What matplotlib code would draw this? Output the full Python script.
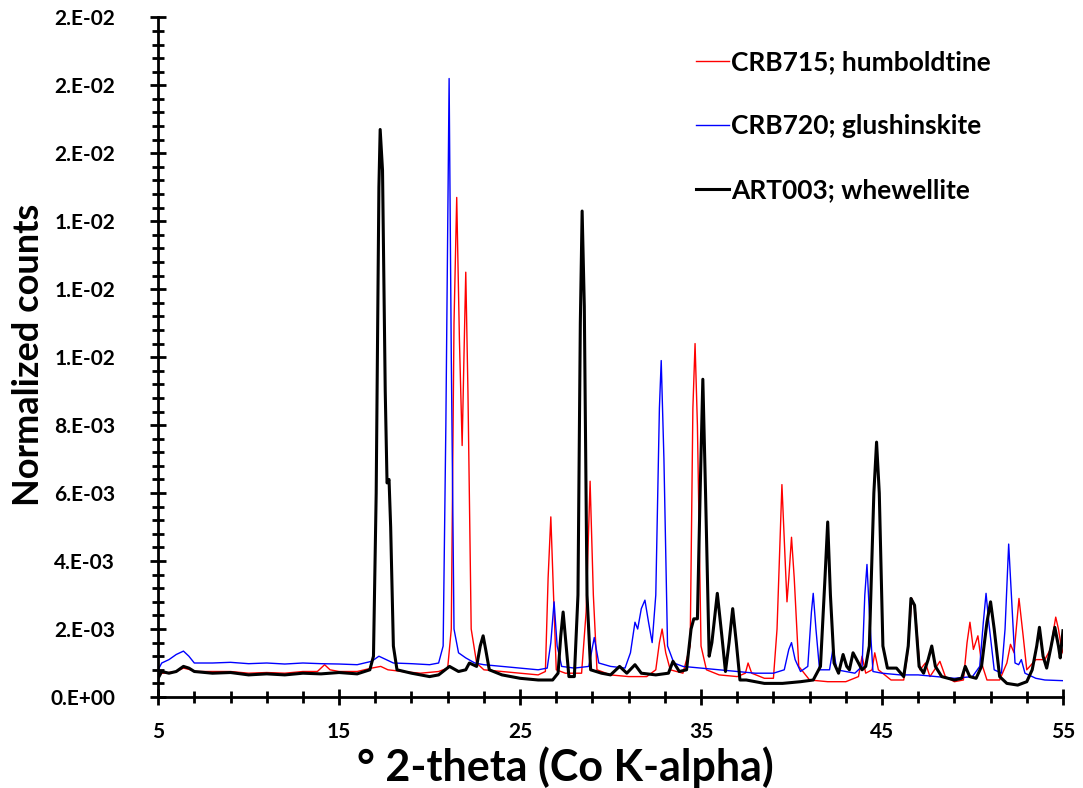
import numpy as np
import matplotlib.pyplot as plt
from matplotlib.ticker import FixedLocator, MultipleLocator, FuncFormatter

plt.rcParams['font.family'] = ['Lato', 'DejaVu Sans']
plt.rcParams['font.weight'] = 'bold'

# Diffraction patterns (2-theta in degrees, counts in units of 1e-3)
crb715_x = [5.0, 5.3, 6.0, 6.4, 6.8, 7.0, 8.0, 9.0, 10.0, 11.0, 12.0, 13.0, 13.8, 14.2, 14.5,
            15.0, 16.0, 16.8, 17.3, 17.7, 18.5, 19.5, 20.5, 21.0, 21.2, 21.35, 21.5, 21.65,
            21.8, 21.9, 22.0, 22.12, 22.3, 22.6, 23.0, 24.0, 25.0, 26.0, 26.4, 26.55, 26.7,
            26.85, 27.0, 27.5, 28.4, 28.65, 28.87, 29.05, 29.25, 30.0, 31.0, 32.0, 32.5, 32.7,
            32.85, 33.05, 33.3, 34.0, 34.4, 34.55, 34.67, 34.8, 35.0, 35.3, 36.0, 37.0, 37.45,
            37.6, 37.8, 38.5, 39.0, 39.2, 39.47, 39.65, 39.75, 39.85, 40.0, 40.15, 40.4, 41.0,
            42.0, 43.0, 43.7, 43.9, 44.1, 44.45, 44.6, 44.8, 45.5, 46.2, 46.4, 46.65, 46.85,
            47.1, 47.4, 47.65, 47.9, 48.2, 48.5, 49.0, 49.5, 49.7, 49.86, 50.05, 50.3, 50.5,
            50.8, 51.5, 51.9, 52.1, 52.3, 52.57, 52.8, 53.0, 53.5, 54.0, 54.3, 54.6, 54.75,
            54.9, 55.0]
crb715_y = [0.7, 0.7, 0.75, 0.85, 0.8, 0.75, 0.75, 0.75, 0.7, 0.72, 0.7, 0.75, 0.75, 0.95, 0.8,
            0.75, 0.75, 0.85, 0.9, 0.8, 0.75, 0.7, 0.75, 0.85, 2.0, 11.0, 14.7, 10.5,
            7.4, 10.0, 12.5, 9.0, 2.0, 1.0, 0.8, 0.75, 0.7, 0.65, 0.75, 3.5, 5.3,
            3.0, 0.8, 0.7, 0.7, 2.5, 6.35, 3.0, 0.8, 0.65, 0.6, 0.6, 0.8, 1.6,
            2.0, 1.3, 0.8, 0.7, 1.5, 8.5, 10.4, 8.0, 1.5, 0.8, 0.65, 0.6, 0.7,
            1.0, 0.7, 0.55, 0.55, 2.0, 6.25, 4.0, 2.8, 3.5, 4.7, 3.5, 0.9, 0.5,
            0.45, 0.45, 0.6, 1.2, 0.7, 0.8, 1.3, 0.8, 0.5, 0.5, 1.2, 2.9, 2.5,
            0.8, 1.0, 0.6, 0.8, 1.05, 0.6, 0.45, 0.5, 1.6, 2.2, 1.4, 1.8, 1.0,
            0.5, 0.5, 1.0, 1.55, 1.3, 2.9, 1.8, 0.8, 1.1, 1.1, 1.4, 2.35, 2.0,
            1.5, 1.3]

crb720_x = [5.0, 5.2, 5.6, 6.0, 6.4, 6.7, 7.0, 8.0, 9.0, 10.0, 11.0, 12.0, 13.0, 14.0, 15.0,
            16.0, 16.8, 17.2, 17.6, 18.0, 19.0, 20.0, 20.5, 20.75, 20.9, 21.08, 21.2, 21.35,
            21.6, 22.0, 22.5, 23.0, 24.0, 25.0, 26.0, 26.5, 26.7, 26.88, 27.05, 27.3, 28.0,
            28.8, 29.1, 29.35, 30.0, 30.8, 31.1, 31.35, 31.5, 31.7, 31.9, 32.1, 32.3, 32.5,
            32.7, 32.8, 32.95, 33.15, 33.5, 34.0, 35.0, 36.0, 37.0, 38.0, 39.0, 39.6, 39.85,
            40.0, 40.2, 40.5, 40.9, 41.1, 41.2, 41.35, 41.55, 42.1, 42.3, 42.5, 43.5, 43.9,
            44.05, 44.17, 44.3, 44.5, 45.0, 46.0, 47.0, 48.0, 49.0, 50.0, 50.4, 50.6, 50.75,
            50.9, 51.2, 51.6, 51.8, 52.0, 52.15, 52.35, 52.55, 52.7, 52.9, 53.5, 54.0, 55.0]
crb720_y = [0.8, 1.0, 1.1, 1.25, 1.35, 1.2, 1.0, 1.0, 1.02, 0.98, 1.0, 0.97, 1.0, 0.98, 0.97,
            0.95, 1.05, 1.2, 1.1, 1.0, 0.98, 0.95, 1.0, 1.5, 8.0, 18.2, 10.0, 2.0,
            1.3, 1.15, 1.0, 0.95, 0.9, 0.85, 0.8, 0.85, 1.6, 2.8, 1.5, 0.9, 0.85,
            0.9, 1.75, 1.0, 0.9, 0.85, 1.3, 2.2, 2.0, 2.6, 2.85, 2.2, 1.6, 3.0,
            8.5, 9.9, 7.0, 1.5, 1.0, 0.9, 0.85, 0.8, 0.75, 0.7, 0.7, 0.8, 1.4,
            1.6, 1.1, 0.75, 0.9, 2.5, 3.05, 2.0, 0.8, 0.8, 1.45, 0.8, 0.7, 0.9,
            3.0, 3.9, 2.5, 0.75, 0.7, 0.65, 0.65, 0.6, 0.55, 0.6, 0.9, 2.2, 3.05,
            2.2, 0.8, 0.7, 2.0, 4.5, 3.0, 1.0, 0.95, 1.1, 0.7, 0.55, 0.5, 0.48]

art003_x = [5.0, 5.2, 5.6, 6.0, 6.4, 6.7, 7.0, 8.0, 9.0, 10.0, 11.0, 12.0, 13.0, 14.0, 15.0,
            16.0, 16.7, 16.9, 17.05, 17.2, 17.27, 17.4, 17.55, 17.65, 17.76, 17.85, 18.0,
            18.2, 19.0, 20.0, 20.5, 21.1, 21.6, 22.0, 22.2, 22.6, 22.8, 22.96, 23.1, 23.3,
            24.0, 25.0, 26.0, 26.8, 27.1, 27.25, 27.38, 27.5, 27.7, 28.0, 28.2, 28.33, 28.43,
            28.55, 28.7, 28.9, 29.5, 30.0, 30.5, 30.9, 31.35, 31.7, 32.5, 33.2, 33.45, 33.8,
            34.2, 34.45, 34.6, 34.8, 34.95, 35.1, 35.25, 35.45, 35.6, 35.9, 36.15, 36.35,
            36.55, 36.75, 36.95, 37.15, 37.5, 38.5, 39.5, 40.5, 41.2, 41.6, 41.85, 42.0,
            42.15, 42.35, 42.6, 42.85, 43.05, 43.2, 43.4, 43.6, 43.9, 44.1, 44.3, 44.55,
            44.7, 44.85, 45.05, 45.3, 45.8, 46.2, 46.45, 46.6, 46.8, 47.05, 47.3, 47.55,
            47.75, 47.95, 48.3, 49.0, 49.4, 49.6, 49.85, 50.2, 50.5, 50.8, 51.0, 51.2, 51.5,
            51.9, 52.5, 53.0, 53.3, 53.55, 53.7, 53.9, 54.1, 54.35, 54.55, 54.75, 54.85, 55.0]
art003_y = [0.55, 0.75, 0.7, 0.75, 0.9, 0.85, 0.75, 0.7, 0.72, 0.65, 0.68, 0.65, 0.7, 0.68, 0.72,
            0.68, 0.8, 1.2, 6.0, 15.0, 16.7, 15.5, 9.0, 6.3, 6.4, 5.0, 1.5,
            0.8, 0.7, 0.6, 0.65, 0.9, 0.75, 0.8, 1.0, 0.9, 1.5, 1.8, 1.4, 0.8,
            0.65, 0.55, 0.5, 0.5, 0.7, 1.8, 2.5, 1.8, 0.6, 0.6, 3.0, 11.0, 14.3,
            11.5, 3.0, 0.8, 0.7, 0.65, 0.9, 0.7, 0.95, 0.7, 0.65, 0.7, 1.05, 0.75,
            0.8, 2.0, 2.3, 2.3, 6.0, 9.35, 6.0, 1.2, 1.6, 3.05, 1.8, 0.75,
            1.6, 2.6, 1.6, 0.5, 0.5, 0.4, 0.4, 0.45, 0.5, 0.9, 3.5, 5.15,
            3.0, 1.0, 0.7, 1.25, 0.9, 0.8, 1.3, 1.1, 0.8, 0.9, 1.5, 6.0,
            7.5, 6.0, 1.5, 0.85, 0.85, 0.6, 1.5, 2.9, 2.7, 0.9, 0.7, 1.1,
            1.5, 0.9, 0.6, 0.5, 0.55, 0.9, 0.6, 0.55, 0.9, 2.2, 2.8, 2.0, 0.6,
            0.4, 0.35, 0.45, 0.8, 1.5, 2.05, 1.2, 0.85, 1.5, 2.05, 1.5, 1.15, 1.95]

labels = ["CRB715; humboldtine", "CRB720; glushinskite", "ART003; whewellite"]

fig = plt.figure(figsize=(10.83, 7.88), dpi=100)
ax = fig.add_axes([0.146, 0.1155, 0.8355, 0.8625])

ax.plot(crb715_x, np.array(crb715_y) * 1e-3, color='#ff0000', lw=1.0, label=labels[0])
ax.plot(crb720_x, np.array(crb720_y) * 1e-3, color='#0000ff', lw=1.0, label=labels[1])
ax.plot(art003_x, np.array(art003_y) * 1e-3, color='black', lw=2.2, label=labels[2])

ax.set_xlim(5, 55)
ax.set_ylim(0, 0.02)
ax.set_xticks(np.arange(5, 56, 10))
ax.xaxis.set_minor_locator(FixedLocator(np.arange(5, 56, 2)))
ax.yaxis.set_major_locator(MultipleLocator(0.002))
ax.yaxis.set_minor_locator(MultipleLocator(0.0004))
ax.yaxis.set_major_formatter(FuncFormatter(lambda v, p: f"{v:.0E}".replace("E", ".E")))

for s in ['top', 'right']:
    ax.spines[s].set_visible(False)
for s in ['left', 'bottom']:
    ax.spines[s].set_linewidth(2)

ax.tick_params(axis='both', which='major', direction='inout', length=12, width=2,
               labelsize=15)
ax.tick_params(axis='both', which='minor', direction='inout', length=8, width=2)
ax.tick_params(axis='y', which='major', pad=25)
ax.tick_params(axis='x', which='major', pad=12)

ax.set_xlabel("° 2-theta (Co K-alpha)", fontsize=31, fontweight='bold')
ax.set_ylabel("Normalized counts", fontsize=26, fontweight='bold')
ax.xaxis.set_label_coords(0.45, -0.073)
ax.yaxis.set_label_coords(-0.125, 0.503)

ax.legend(loc='upper left', bbox_to_anchor=(0.568, 0.986), frameon=False, fontsize=19,
          handlelength=1.25, handletextpad=0.1, labelspacing=1.5)

fig.savefig("out.png", dpi=100)
